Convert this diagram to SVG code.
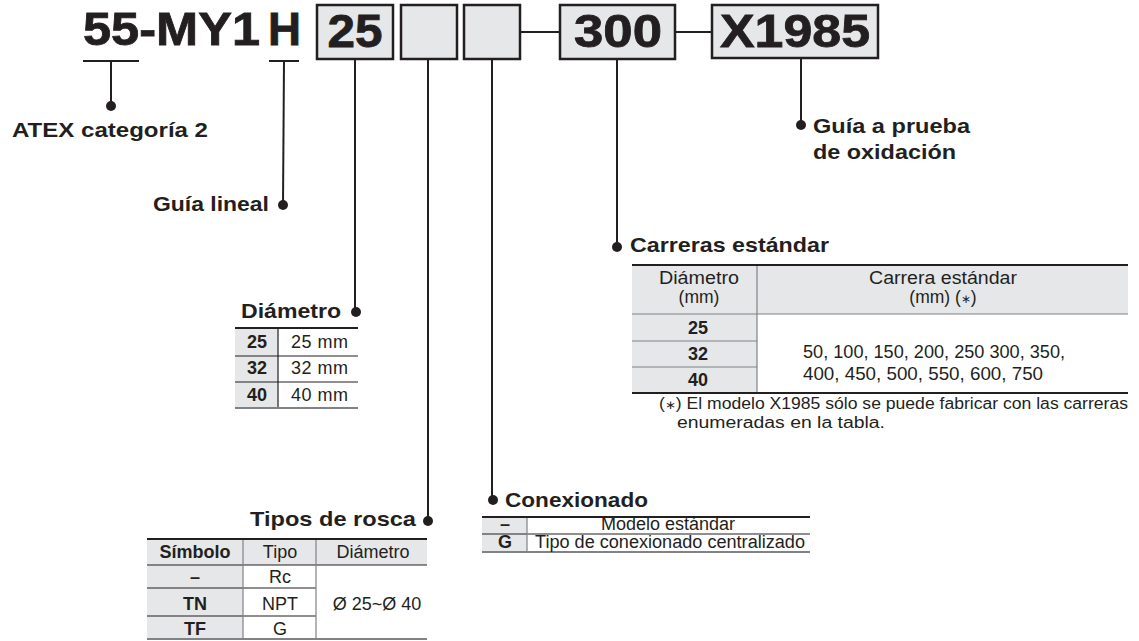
<svg xmlns="http://www.w3.org/2000/svg" width="1139" height="641" viewBox="0 0 1139 641">
<style>
text{font-family:"Liberation Sans",Arial,sans-serif;fill:#231f20}
.big{font-size:46px;font-weight:bold}
.lbl{font-size:21px;font-weight:bold}
.t{font-size:18px}
.th{font-size:17.5px}
.b{font-weight:bold}
.m{text-anchor:middle}
.box{fill:#e6e7e8;stroke:#231f20;stroke-width:2.5}
.ln{stroke:#231f20;stroke-width:2;fill:none}
.dot{fill:#231f20}
.g{fill:#e6e7e8}
.rule{stroke:#231f20;stroke-width:2}
.rg{stroke:#808285;stroke-width:2}
.thin{stroke:#231f20;stroke-width:1.2}
.thg{stroke:#808285;stroke-width:1.2}
.ast{font-size:12px}
.fn{font-size:16px}
</style>
<rect width="1139" height="641" fill="#fff"/>

<g id="header">
<text class="big" x="83" y="45" textLength="177" lengthAdjust="spacingAndGlyphs" stroke="#231f20" stroke-width="0.8">55-MY1</text>
<text class="big" x="268" y="45" textLength="33" lengthAdjust="spacingAndGlyphs" stroke="#231f20" stroke-width="0.8">H</text>
<line class="ln" x1="83" y1="61" x2="139" y2="61"/>
<line class="ln" x1="269" y1="61" x2="299" y2="61"/>
</g>

<g id="box-bore"><rect class="box" x="317" y="5" width="76" height="54"/><text class="big m" x="355" y="47" textLength="55" lengthAdjust="spacingAndGlyphs" stroke="#231f20" stroke-width="0.8">25</text></g>
<g id="box-thread"><rect class="box" x="401" y="5" width="56" height="54"/></g>
<g id="box-port"><rect class="box" x="464" y="5" width="56" height="54"/></g>
<g id="box-stroke"><rect class="box" x="560" y="5" width="115" height="54"/><text class="big m" x="618" y="47" textLength="88" lengthAdjust="spacingAndGlyphs" stroke="#231f20" stroke-width="0.8">300</text></g>
<g id="box-suffix"><rect class="box" x="712" y="5" width="166" height="53"/><text class="big m" x="795" y="47" textLength="150" lengthAdjust="spacingAndGlyphs" stroke="#231f20" stroke-width="0.8">X1985</text></g>

<g id="connectors">
<line class="ln" x1="520" y1="32" x2="560" y2="32"/>
<line class="ln" x1="675" y1="32" x2="712" y2="32"/>
<line class="ln" x1="111" y1="61" x2="111" y2="106"/><circle class="dot" cx="111" cy="106" r="5"/>
<line class="ln" x1="284" y1="61" x2="283" y2="205"/><circle class="dot" cx="283" cy="205" r="5"/>
<line class="ln" x1="355" y1="59" x2="355" y2="312"/><circle class="dot" cx="356" cy="312" r="5"/>
<line class="ln" x1="428" y1="59" x2="428" y2="521"/><circle class="dot" cx="428" cy="521" r="5"/>
<line class="ln" x1="492" y1="59" x2="492" y2="500"/><circle class="dot" cx="493" cy="500" r="5"/>
<line class="ln" x1="617" y1="59" x2="617" y2="247"/><circle class="dot" cx="617" cy="247" r="5"/>
<line class="ln" x1="801" y1="58" x2="801" y2="125"/><circle class="dot" cx="801" cy="125" r="5"/>
</g>

<g id="atex"><text class="lbl" x="12" y="137" textLength="196" lengthAdjust="spacingAndGlyphs">ATEX categoría 2</text></g>
<g id="guia-lineal"><text class="lbl" x="153" y="211" textLength="116" lengthAdjust="spacingAndGlyphs">Guía lineal</text></g>
<g id="guia-oxidacion">
<text class="lbl" x="813" y="133" textLength="157" lengthAdjust="spacingAndGlyphs">Guía a prueba</text>
<text class="lbl" x="813" y="159" textLength="143" lengthAdjust="spacingAndGlyphs">de oxidación</text>
</g>

<g id="diametro">
<text class="lbl" x="241" y="318" textLength="100" lengthAdjust="spacingAndGlyphs">Diámetro</text>
<rect class="g" x="235" y="328" width="43" height="80"/>
<line class="thin" x1="235" y1="356" x2="358" y2="356"/>
<line class="thin" x1="235" y1="382" x2="358" y2="382"/>
<line class="thin" x1="278" y1="328" x2="278" y2="408"/>
<line class="rule" x1="235" y1="328" x2="358" y2="328"/>
<line class="rg" x1="235" y1="408" x2="358" y2="408"/>
<text class="t b m" x="257" y="348">25</text><text class="t" x="291" y="348" textLength="57">25 mm</text>
<text class="t b m" x="257" y="374">32</text><text class="t" x="291" y="374" textLength="57">32 mm</text>
<text class="t b m" x="257" y="401">40</text><text class="t" x="291" y="401" textLength="57">40 mm</text>
</g>

<g id="carreras">
<text class="lbl" x="630" y="252" textLength="199" lengthAdjust="spacingAndGlyphs">Carreras estándar</text>
<rect class="g" x="632" y="265" width="496" height="49"/>
<rect class="g" x="632" y="314" width="125" height="79"/>
<line class="thg" x1="632" y1="314" x2="1128" y2="314"/>
<line class="thg" x1="632" y1="341" x2="757" y2="341"/>
<line class="thg" x1="632" y1="367" x2="757" y2="367"/>
<line class="thg" x1="757" y1="265" x2="757" y2="393"/>
<line class="rule" x1="632" y1="265" x2="1128" y2="265"/>
<line class="rule" x1="632" y1="393" x2="1128" y2="393"/>
<text class="th m" x="699" y="284" textLength="80" lengthAdjust="spacingAndGlyphs">Diámetro</text>
<text class="th m" x="699" y="303">(mm)</text>
<text class="th m" x="943" y="284" textLength="148" lengthAdjust="spacingAndGlyphs">Carrera estándar</text>
<text class="th m" x="943" y="303">(mm) (<tspan class="ast">∗</tspan>)</text>
<text class="t b m" x="698" y="334">25</text>
<text class="t b m" x="698" y="360">32</text>
<text class="t b m" x="698" y="386">40</text>
<text class="t" x="803" y="358" textLength="262" lengthAdjust="spacingAndGlyphs">50, 100, 150, 200, 250 300, 350,</text>
<text class="t" x="803" y="380" textLength="240" lengthAdjust="spacingAndGlyphs">400, 450, 500, 550, 600, 750</text>
<text class="fn" x="659" y="409" textLength="469" lengthAdjust="spacingAndGlyphs">(<tspan class="ast">∗</tspan>) El modelo X1985 sólo se puede fabricar con las carreras</text>
<text class="fn" x="677" y="428" textLength="208" lengthAdjust="spacingAndGlyphs">enumeradas en la tabla.</text>
</g>

<g id="tipos-rosca">
<text class="lbl" x="250" y="526" textLength="166" lengthAdjust="spacingAndGlyphs">Tipos de rosca</text>
<rect class="g" x="147" y="539" width="280" height="26"/>
<rect class="g" x="147" y="565" width="96" height="74"/>
<line class="thin" x1="147" y1="565" x2="427" y2="565"/>
<line class="thin" x1="147" y1="588" x2="316" y2="588"/>
<line class="thin" x1="147" y1="616" x2="316" y2="616"/>
<line class="thg" x1="243" y1="539" x2="243" y2="639"/>
<line class="thg" x1="316" y1="539" x2="316" y2="639"/>
<line class="rule" x1="147" y1="539" x2="427" y2="539"/>
<line class="rg" x1="147" y1="639" x2="427" y2="639"/>
<text class="t b m" x="195" y="558">Símbolo</text>
<text class="t m" x="280" y="558">Tipo</text>
<text class="t m" x="373" y="558">Diámetro</text>
<text class="t b m" x="195" y="583">–</text><text class="t m" x="280" y="583">Rc</text>
<text class="t b m" x="195" y="610">TN</text><text class="t m" x="280" y="610">NPT</text>
<text class="t b m" x="195" y="635">TF</text><text class="t m" x="280" y="635">G</text>
<text class="t m" x="377" y="610">Ø 25~Ø 40</text>
</g>

<g id="conexionado">
<text class="lbl" x="505" y="507" textLength="143" lengthAdjust="spacingAndGlyphs">Conexionado</text>
<rect class="g" x="482" y="517" width="45" height="35"/>
<line class="thin" x1="482" y1="534" x2="810" y2="534"/>
<line class="thg" x1="527" y1="517" x2="527" y2="552"/>
<line class="rule" x1="482" y1="517" x2="810" y2="517"/>
<line class="rg" x1="482" y1="552" x2="810" y2="552"/>
<text class="t b m" x="505" y="530" font-size="17">–</text>
<text class="t m" x="668" y="530" font-size="17">Modelo estándar</text>
<text class="t b m" x="505" y="548" font-size="17">G</text>
<text class="t" x="535" y="548" font-size="17" textLength="270" lengthAdjust="spacingAndGlyphs">Tipo de conexionado centralizado</text>
</g>
</svg>
